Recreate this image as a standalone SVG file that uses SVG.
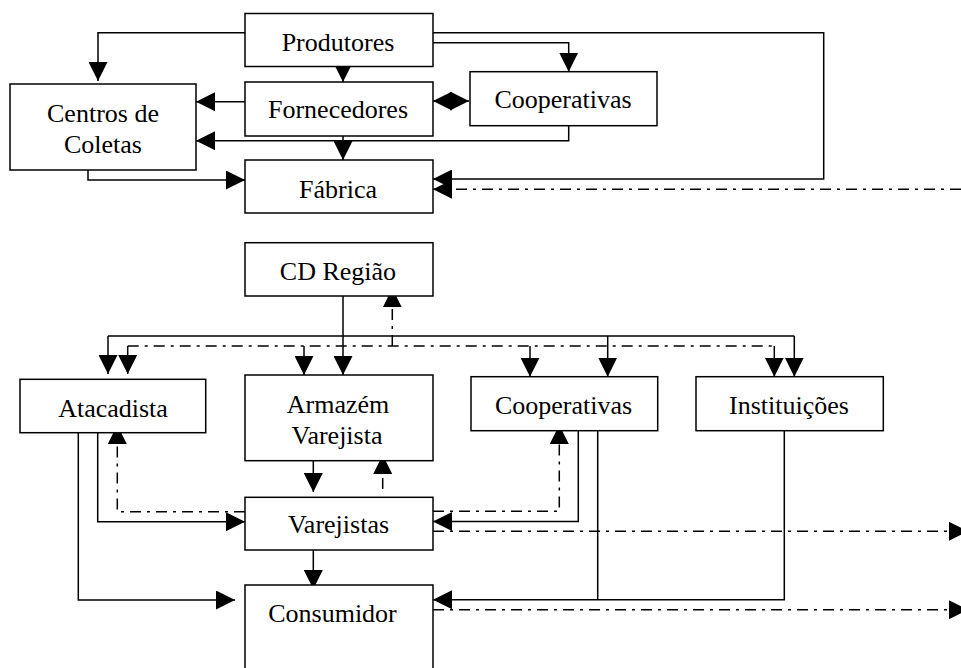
<svg xmlns="http://www.w3.org/2000/svg" width="961" height="668" viewBox="0 0 961 668">
<style>
.box{fill:#fff;stroke:#000;stroke-width:1.5}
.lbl{font-family:"Liberation Serif","Times New Roman",serif;font-size:26px;fill:#000;text-anchor:middle}
.c{fill:none;stroke:#000;stroke-width:1.5;marker-end:url(#ah)}
.n{fill:none;stroke:#000;stroke-width:1.5}
.d{fill:none;stroke:#000;stroke-width:1.5;stroke-dasharray:11 6 3 6;marker-end:url(#ah)}
.dn{fill:none;stroke:#000;stroke-width:1.5;stroke-dasharray:11 6 3 6}
</style>
<defs>
<marker id="ah" markerUnits="userSpaceOnUse" viewBox="0 0 20 20" refX="20" refY="10" markerWidth="19" markerHeight="19" orient="auto-start-reverse">
<path d="M0,0 L20,10 L0,20 z" fill="#000"/>
</marker>
</defs>
<rect width="961" height="668" fill="#fff"/>
<g id="connectors">
<path class="c" d="M245,32.7 H98 V81"/>
<path class="c" d="M343,66.7 V82"/>
<path class="c" d="M433,42.7 H568.7 V71.7"/>
<path class="c" d="M433,32.7 H823.7 V179 H433"/>
<path class="c" d="M245,101.7 H196"/>
<path class="c" d="M433,101 H469" style="marker-start:url(#ah)"/>
<path class="c" d="M568.7,125.7 V140.7 H196"/>
<path class="c" d="M343,121 V160"/>
<path class="c" d="M88,159 V180 H245"/>
<path class="d" d="M961,189.3 H433"/>
<path class="c" d="M343,286.7 V375"/>
<path class="n" d="M108,336 H794.3"/>
<path class="c" d="M108,336 V374"/>
<path class="c" d="M607.7,336 V376.7"/>
<path class="c" d="M794.3,336 V376.7"/>
<path class="dn" d="M127.7,346 H774.3"/>
<path class="c" d="M127.7,346 V374"/>
<path class="c" d="M304,346 V375"/>
<path class="c" d="M530,346 V376.7"/>
<path class="c" d="M774.3,346 V376.7"/>
<path class="d" d="M392.3,346 V288.3"/>
<path class="c" d="M78.3,423 V600 H235"/>
<path class="c" d="M97.7,423 V521.7 H245"/>
<path class="d" d="M245,511.7 H117.3 V425"/>
<path class="c" d="M313.3,453 V492"/>
<path class="d" d="M382.7,489 V455"/>
<path class="c" d="M313.3,541.7 V589"/>
<path class="d" d="M433,511.3 H559.3 V425"/>
<path class="c" d="M578.3,423 V521.5 H433"/>
<path class="n" d="M597.7,423 V599.7"/>
<path class="c" d="M784.3,423 V599.7 H433"/>
<path class="d" d="M433,531.3 H968"/>
<path class="d" d="M433,609.7 H968"/>
</g>
<g id="produtores"><rect class="box" x="245" y="13.5" width="188" height="53"/><text class="lbl" x="338" y="51">Produtores</text></g>
<g id="fornecedores"><rect class="box" x="245" y="82" width="188" height="54"/><text class="lbl" x="338" y="118">Fornecedores</text></g>
<g id="fabrica"><rect class="box" x="245" y="160" width="188" height="53"/><text class="lbl" x="338" y="198">Fábrica</text></g>
<g id="centros"><rect class="box" x="10" y="84" width="186" height="86"/><text class="lbl" x="103" y="121.5">Centros de</text><text class="lbl" x="103" y="153">Coletas</text></g>
<g id="cooperativas-top"><rect class="box" x="470" y="71.7" width="187" height="54"/><text class="lbl" x="563" y="108">Cooperativas</text></g>
<g id="cd-regiao"><rect class="box" x="245" y="242.7" width="188" height="53.3"/><text class="lbl" x="338" y="280">CD Região</text></g>
<g id="atacadista"><rect class="box" x="20" y="379.3" width="185.7" height="53.4"/><text class="lbl" x="113" y="416.5">Atacadista</text></g>
<g id="armazem"><rect class="box" x="245" y="375" width="188" height="85.7"/><text class="lbl" x="338" y="413">Armazém</text><text class="lbl" x="337" y="444">Varejista</text></g>
<g id="cooperativas-low"><rect class="box" x="471" y="376.7" width="186.7" height="54"/><text class="lbl" x="563.5" y="414">Cooperativas</text></g>
<g id="instituicoes"><rect class="box" x="696" y="376.7" width="187.3" height="54"/><text class="lbl" x="789" y="414">Instituições</text></g>
<g id="varejistas"><rect class="box" x="245" y="497.3" width="188" height="52.7"/><text class="lbl" x="338.5" y="533">Varejistas</text></g>
<g id="consumidor"><rect class="box" x="245" y="585" width="188" height="100"/><text class="lbl" x="332.5" y="621.5">Consumidor</text></g>
</svg>
